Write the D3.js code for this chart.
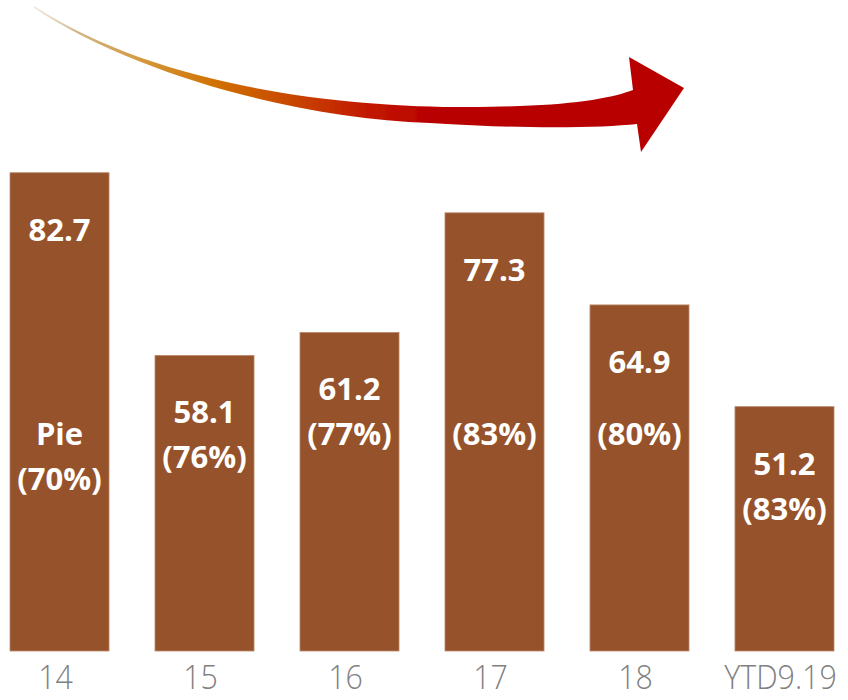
<!DOCTYPE html>
<html>
<head>
<meta charset="utf-8">
<script src="https://cdn.jsdelivr.net/npm/d3@7"></script>
<style>
  body { margin: 0; background: #fff; }
  svg { display: block; }
</style>
</head>
<body>
<div id="chart"></div>
<script>
// data
const years = ['14', '15', '16', '17', '18', 'YTD9.19'];
const totals = [82.7, 58.1, 61.2, 77.3, 64.9, 51.2];
const shares = [70, 76, 77, 83, 80, 83];
const notes = ['Pie', '', '', '', '', ''];

const W = 848, H = 700;
const barColor = '#96532b';

const svg = d3.select('#chart')
  .append('svg')
  .attr('width', W)
  .attr('height', H);

// scales (value axis does not start at zero in the original)
const x = d3.scaleBand()
  .domain(years)
  .range([10, 834])
  .paddingInner(0.317)
  .paddingOuter(0);

const y = d3.scaleLinear()
  .domain([18.3, 90])
  .range([651, 118.5]);

// decorative trend arrow
const defs = svg.append('defs');
const grad = defs.append('linearGradient')
  .attr('id', 'arrowGrad')
  .attr('gradientUnits', 'userSpaceOnUse')
  .attr('x1', 36).attr('y1', 0)
  .attr('x2', 640).attr('y2', 0);
[
  [0, '#ddd0b8', 0.5],
  [0.07, '#d0b584', 1],
  [0.17, '#d49a40', 1],
  [0.3, '#d07000', 1],
  [0.42, '#c84800', 1],
  [0.55, '#c21800', 1],
  [0.66, '#b80000', 1],
  [1, '#b80000', 1]
].forEach(s => grad.append('stop')
  .attr('offset', s[0])
  .attr('stop-color', s[1])
  .attr('stop-opacity', s[2]));

defs.append('filter').attr('id', 'soft')
  .append('feGaussianBlur').attr('stdDeviation', 0.6);

svg.append('path')
  .attr('d', 'M34,6 C170,95 380,112 520,106 C580,104 615,97 633,90 ' +
             'L629,57 L684,88 L641,152 L637,124 ' +
             'C600,128 520,129 430,123 C300,118 140,77 34,8 Z')
  .attr('fill', 'url(#arrowGrad)')
  .attr('filter', 'url(#soft)');

// bars
svg.selectAll('rect.bar')
  .data(totals)
  .join('rect')
  .attr('class', 'bar')
  .attr('x', (d, i) => x(years[i]))
  .attr('y', d => y(d))
  .attr('width', x.bandwidth())
  .attr('height', d => y.range()[0] - y(d))
  .attr('fill', barColor)
  .attr('stroke', '#b98b6c')
  .attr('stroke-width', 0.8);

// labels inside bars
const lineGap = 45;
const labelFont = "'Open Sans', 'DejaVu Sans', sans-serif";

years.forEach((yr, i) => {
  const cx = x(yr) + x.bandwidth() / 2;
  const top = y(totals[i]);
  const g = svg.append('g')
    .attr('fill', '#fff')
    .attr('font-family', labelFont)
    .attr('font-weight', 700)
    .attr('font-size', 31)
    .attr('text-anchor', 'middle');

  g.append('text')
    .attr('x', cx)
    .attr('y', top + 57)
    .attr('dy', '0.35em')
    .text(totals[i].toFixed(1));

  const rest = [];
  if (notes[i]) rest.push(notes[i]);
  rest.push('(' + shares[i] + '%)');

  // tall bars keep the share lower down, short bars stack it under the value
  let start = totals[i] > 62 ? y(47.5) : top + 57 + lineGap;
  rest.forEach((t, k) => {
    g.append('text')
      .attr('x', cx)
      .attr('y', start + k * lineGap)
      .attr('dy', '0.35em')
      .text(t);
  });
});

// category axis
const axis = svg.append('g')
  .attr('transform', `translate(-4, ${y.range()[0] + 15})`)
  .call(d3.axisBottom(x).tickSize(0).tickPadding(0));
axis.select('.domain').remove();
axis.selectAll('text')
  .attr('fill', '#808080')
  .attr('font-family', "'Open Sans', sans-serif")
  .attr('font-weight', 300)
  .attr('font-size', 33)
  .attr('dy', '0.71em')
  .attr('transform', 'scale(0.92,1)');
</script>
</body>
</html>
